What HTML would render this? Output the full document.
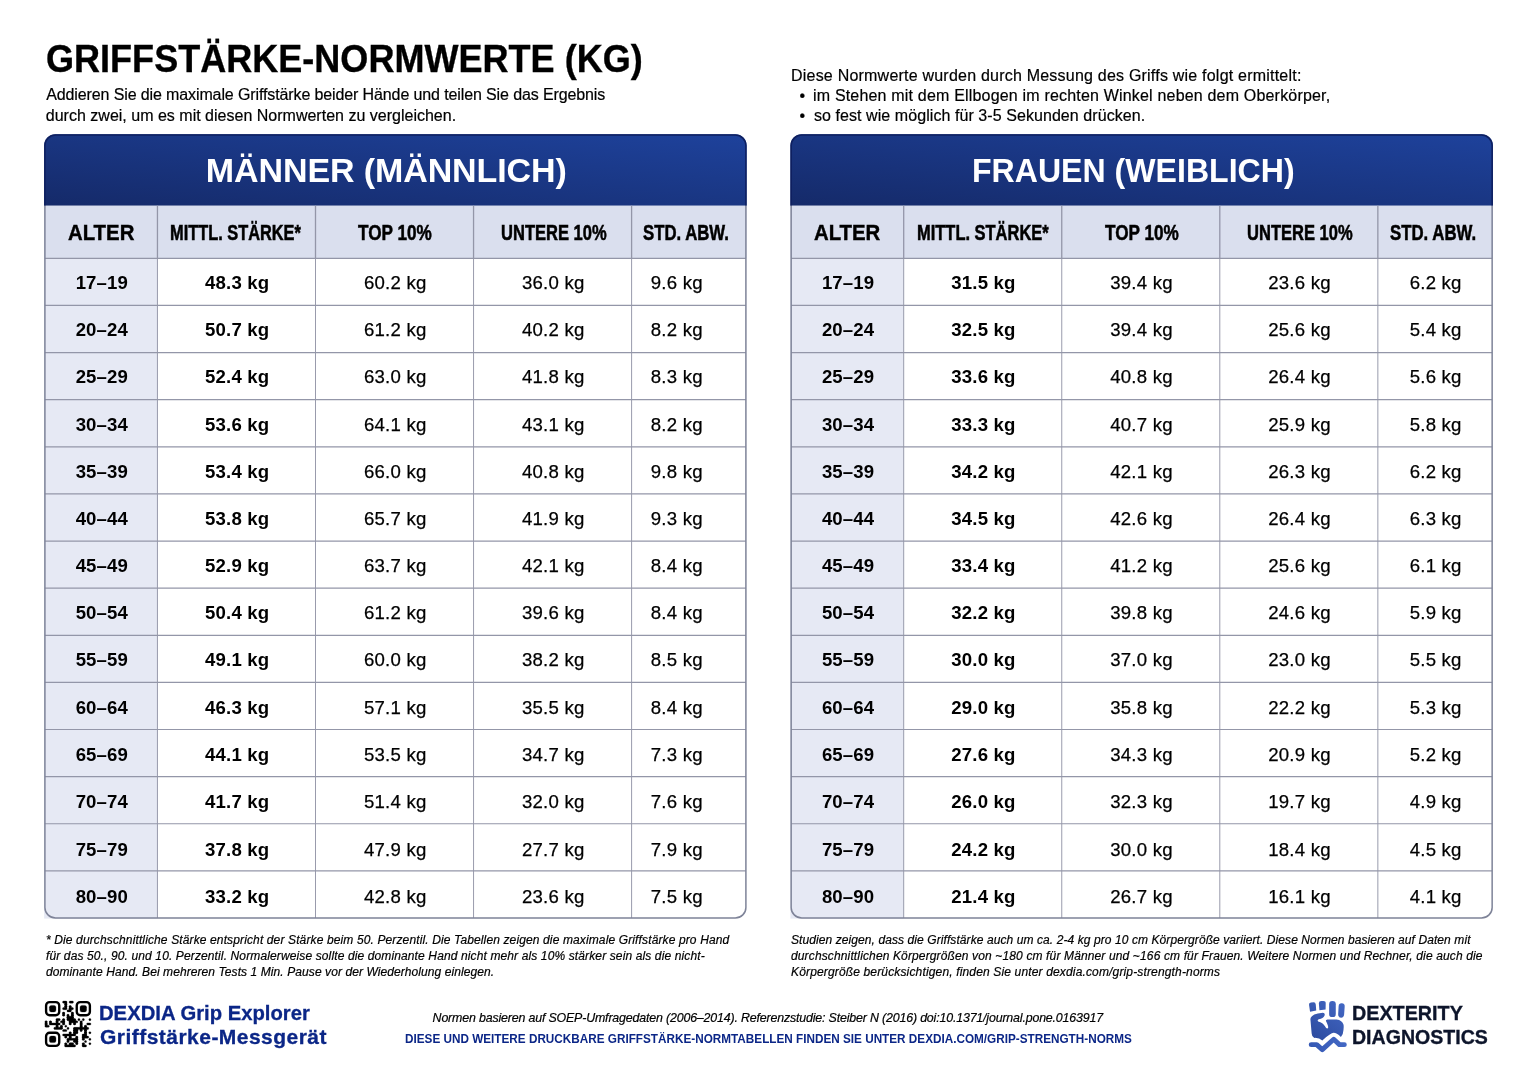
<!DOCTYPE html>
<html lang="de"><head><meta charset="utf-8"><title>Griffstärke-Normwerte (kg)</title>
<style>
html,body{margin:0;padding:0;background:#fff}
body{width:1536px;height:1085px;overflow:hidden;position:relative;font-family:"Liberation Sans",sans-serif;color:#000;-webkit-font-smoothing:antialiased}
.x{position:absolute;white-space:nowrap;line-height:1;transform-origin:0 0;display:block}
svg.g{position:absolute;left:0;top:0}
.c{position:absolute;text-align:center;white-space:nowrap;line-height:1;font-size:18.6px;letter-spacing:.22px;padding-left:1.4px;box-sizing:border-box;-webkit-text-stroke:.25px #000}
.c.b{font-weight:700;letter-spacing:.15px;-webkit-text-stroke:0}
.ic{position:absolute}
</style></head><body>
<svg class="g" width="1536" height="1085" viewBox="0 0 1536 1085"><linearGradient id="bgm" x1="0" y1="1" x2="1" y2="0"><stop offset="0" stop-color="#152a69"/><stop offset="1" stop-color="#1e429c"/></linearGradient><clipPath id="cpm"><rect x="44.10" y="134.20" width="702.60" height="784.60" rx="11.4"/></clipPath><rect x="44.15" y="258.33" width="113.30" height="660.27" fill="#e6e9f4"/><g clip-path="url(#cpm)"><rect x="43.9" y="134.0" width="703.0" height="71.75" fill="url(#bgm)"/><rect x="43.9" y="205.75" width="703.0" height="52.579999999999984" fill="#dadfee"/></g><line x1="157.45" y1="205.75" x2="157.45" y2="258.33" stroke="#9396a8" stroke-width="1.3"/><line x1="157.45" y1="258.33" x2="157.45" y2="918.0" stroke="#9396a8" stroke-width="0.95"/><line x1="315.50" y1="205.75" x2="315.50" y2="258.33" stroke="#9396a8" stroke-width="1.3"/><line x1="315.50" y1="258.33" x2="315.50" y2="918.0" stroke="#9396a8" stroke-width="0.95"/><line x1="473.55" y1="205.75" x2="473.55" y2="258.33" stroke="#9396a8" stroke-width="1.3"/><line x1="473.55" y1="258.33" x2="473.55" y2="918.0" stroke="#9396a8" stroke-width="0.95"/><line x1="631.60" y1="205.75" x2="631.60" y2="258.33" stroke="#9396a8" stroke-width="1.3"/><line x1="631.60" y1="258.33" x2="631.60" y2="918.0" stroke="#9396a8" stroke-width="0.95"/><line x1="44.90" y1="258.33" x2="745.90" y2="258.33" stroke="#9396a8" stroke-width="1.2"/><line x1="44.90" y1="305.45" x2="745.90" y2="305.45" stroke="#9396a8" stroke-width="1.2"/><line x1="44.90" y1="352.57" x2="745.90" y2="352.57" stroke="#9396a8" stroke-width="1.2"/><line x1="44.90" y1="399.69" x2="745.90" y2="399.69" stroke="#9396a8" stroke-width="1.2"/><line x1="44.90" y1="446.81" x2="745.90" y2="446.81" stroke="#9396a8" stroke-width="1.2"/><line x1="44.90" y1="493.93" x2="745.90" y2="493.93" stroke="#9396a8" stroke-width="1.2"/><line x1="44.90" y1="541.05" x2="745.90" y2="541.05" stroke="#9396a8" stroke-width="1.2"/><line x1="44.90" y1="588.16" x2="745.90" y2="588.16" stroke="#9396a8" stroke-width="1.2"/><line x1="44.90" y1="635.28" x2="745.90" y2="635.28" stroke="#9396a8" stroke-width="1.2"/><line x1="44.90" y1="682.40" x2="745.90" y2="682.40" stroke="#9396a8" stroke-width="1.2"/><line x1="44.90" y1="729.52" x2="745.90" y2="729.52" stroke="#9396a8" stroke-width="1.2"/><line x1="44.90" y1="776.64" x2="745.90" y2="776.64" stroke="#9396a8" stroke-width="1.2"/><line x1="44.90" y1="823.76" x2="745.90" y2="823.76" stroke="#9396a8" stroke-width="1.2"/><line x1="44.90" y1="870.88" x2="745.90" y2="870.88" stroke="#9396a8" stroke-width="1.2"/><path d="M44.90 205.75 V145.6 A10.6 10.6 0 0 1 55.50 135.0 H735.30 A10.6 10.6 0 0 1 745.90 145.6 V205.75" fill="none" stroke="#0e1f5f" stroke-width="1.5"/><path d="M44.90 205.75 V907.4 A10.6 10.6 0 0 0 55.50 918.0 H735.30 A10.6 10.6 0 0 0 745.90 907.4 V205.75" fill="none" stroke="#7e8398" stroke-width="1.5"/><linearGradient id="bgw" x1="0" y1="1" x2="1" y2="0"><stop offset="0" stop-color="#152a69"/><stop offset="1" stop-color="#1e429c"/></linearGradient><clipPath id="cpw"><rect x="790.35" y="134.20" width="702.60" height="784.60" rx="11.4"/></clipPath><rect x="790.40" y="258.33" width="113.30" height="660.27" fill="#e6e9f4"/><g clip-path="url(#cpw)"><rect x="790.15" y="134.0" width="703.0000000000001" height="71.75" fill="url(#bgw)"/><rect x="790.15" y="205.75" width="703.0000000000001" height="52.579999999999984" fill="#dadfee"/></g><line x1="903.70" y1="205.75" x2="903.70" y2="258.33" stroke="#9396a8" stroke-width="1.3"/><line x1="903.70" y1="258.33" x2="903.70" y2="918.0" stroke="#9396a8" stroke-width="0.95"/><line x1="1061.75" y1="205.75" x2="1061.75" y2="258.33" stroke="#9396a8" stroke-width="1.3"/><line x1="1061.75" y1="258.33" x2="1061.75" y2="918.0" stroke="#9396a8" stroke-width="0.95"/><line x1="1219.80" y1="205.75" x2="1219.80" y2="258.33" stroke="#9396a8" stroke-width="1.3"/><line x1="1219.80" y1="258.33" x2="1219.80" y2="918.0" stroke="#9396a8" stroke-width="0.95"/><line x1="1377.85" y1="205.75" x2="1377.85" y2="258.33" stroke="#9396a8" stroke-width="1.3"/><line x1="1377.85" y1="258.33" x2="1377.85" y2="918.0" stroke="#9396a8" stroke-width="0.95"/><line x1="791.15" y1="258.33" x2="1492.15" y2="258.33" stroke="#9396a8" stroke-width="1.2"/><line x1="791.15" y1="305.45" x2="1492.15" y2="305.45" stroke="#9396a8" stroke-width="1.2"/><line x1="791.15" y1="352.57" x2="1492.15" y2="352.57" stroke="#9396a8" stroke-width="1.2"/><line x1="791.15" y1="399.69" x2="1492.15" y2="399.69" stroke="#9396a8" stroke-width="1.2"/><line x1="791.15" y1="446.81" x2="1492.15" y2="446.81" stroke="#9396a8" stroke-width="1.2"/><line x1="791.15" y1="493.93" x2="1492.15" y2="493.93" stroke="#9396a8" stroke-width="1.2"/><line x1="791.15" y1="541.05" x2="1492.15" y2="541.05" stroke="#9396a8" stroke-width="1.2"/><line x1="791.15" y1="588.16" x2="1492.15" y2="588.16" stroke="#9396a8" stroke-width="1.2"/><line x1="791.15" y1="635.28" x2="1492.15" y2="635.28" stroke="#9396a8" stroke-width="1.2"/><line x1="791.15" y1="682.40" x2="1492.15" y2="682.40" stroke="#9396a8" stroke-width="1.2"/><line x1="791.15" y1="729.52" x2="1492.15" y2="729.52" stroke="#9396a8" stroke-width="1.2"/><line x1="791.15" y1="776.64" x2="1492.15" y2="776.64" stroke="#9396a8" stroke-width="1.2"/><line x1="791.15" y1="823.76" x2="1492.15" y2="823.76" stroke="#9396a8" stroke-width="1.2"/><line x1="791.15" y1="870.88" x2="1492.15" y2="870.88" stroke="#9396a8" stroke-width="1.2"/><path d="M791.15 205.75 V145.6 A10.6 10.6 0 0 1 801.75 135.0 H1481.55 A10.6 10.6 0 0 1 1492.15 145.6 V205.75" fill="none" stroke="#0e1f5f" stroke-width="1.5"/><path d="M791.15 205.75 V907.4 A10.6 10.6 0 0 0 801.75 918.0 H1481.55 A10.6 10.6 0 0 0 1492.15 907.4 V205.75" fill="none" stroke="#7e8398" stroke-width="1.5"/></svg>
<div class="c b" style="left:44.90px;top:274px;width:112.55px">17–19</div>
<div class="c b" style="left:157.45px;top:274px;width:158.05px">48.3 kg</div>
<div class="c" style="left:315.50px;top:274px;width:158.05px">60.2 kg</div>
<div class="c" style="left:473.55px;top:274px;width:158.05px">36.0 kg</div>
<div class="c" style="left:618.90px;top:274px;width:114.30px">9.6 kg</div>
<div class="c b" style="left:44.90px;top:321px;width:112.55px">20–24</div>
<div class="c b" style="left:157.45px;top:321px;width:158.05px">50.7 kg</div>
<div class="c" style="left:315.50px;top:321px;width:158.05px">61.2 kg</div>
<div class="c" style="left:473.55px;top:321px;width:158.05px">40.2 kg</div>
<div class="c" style="left:618.90px;top:321px;width:114.30px">8.2 kg</div>
<div class="c b" style="left:44.90px;top:368px;width:112.55px">25–29</div>
<div class="c b" style="left:157.45px;top:368px;width:158.05px">52.4 kg</div>
<div class="c" style="left:315.50px;top:368px;width:158.05px">63.0 kg</div>
<div class="c" style="left:473.55px;top:368px;width:158.05px">41.8 kg</div>
<div class="c" style="left:618.90px;top:368px;width:114.30px">8.3 kg</div>
<div class="c b" style="left:44.90px;top:416px;width:112.55px">30–34</div>
<div class="c b" style="left:157.45px;top:416px;width:158.05px">53.6 kg</div>
<div class="c" style="left:315.50px;top:416px;width:158.05px">64.1 kg</div>
<div class="c" style="left:473.55px;top:416px;width:158.05px">43.1 kg</div>
<div class="c" style="left:618.90px;top:416px;width:114.30px">8.2 kg</div>
<div class="c b" style="left:44.90px;top:463px;width:112.55px">35–39</div>
<div class="c b" style="left:157.45px;top:463px;width:158.05px">53.4 kg</div>
<div class="c" style="left:315.50px;top:463px;width:158.05px">66.0 kg</div>
<div class="c" style="left:473.55px;top:463px;width:158.05px">40.8 kg</div>
<div class="c" style="left:618.90px;top:463px;width:114.30px">9.8 kg</div>
<div class="c b" style="left:44.90px;top:510px;width:112.55px">40–44</div>
<div class="c b" style="left:157.45px;top:510px;width:158.05px">53.8 kg</div>
<div class="c" style="left:315.50px;top:510px;width:158.05px">65.7 kg</div>
<div class="c" style="left:473.55px;top:510px;width:158.05px">41.9 kg</div>
<div class="c" style="left:618.90px;top:510px;width:114.30px">9.3 kg</div>
<div class="c b" style="left:44.90px;top:557px;width:112.55px">45–49</div>
<div class="c b" style="left:157.45px;top:557px;width:158.05px">52.9 kg</div>
<div class="c" style="left:315.50px;top:557px;width:158.05px">63.7 kg</div>
<div class="c" style="left:473.55px;top:557px;width:158.05px">42.1 kg</div>
<div class="c" style="left:618.90px;top:557px;width:114.30px">8.4 kg</div>
<div class="c b" style="left:44.90px;top:604px;width:112.55px">50–54</div>
<div class="c b" style="left:157.45px;top:604px;width:158.05px">50.4 kg</div>
<div class="c" style="left:315.50px;top:604px;width:158.05px">61.2 kg</div>
<div class="c" style="left:473.55px;top:604px;width:158.05px">39.6 kg</div>
<div class="c" style="left:618.90px;top:604px;width:114.30px">8.4 kg</div>
<div class="c b" style="left:44.90px;top:651px;width:112.55px">55–59</div>
<div class="c b" style="left:157.45px;top:651px;width:158.05px">49.1 kg</div>
<div class="c" style="left:315.50px;top:651px;width:158.05px">60.0 kg</div>
<div class="c" style="left:473.55px;top:651px;width:158.05px">38.2 kg</div>
<div class="c" style="left:618.90px;top:651px;width:114.30px">8.5 kg</div>
<div class="c b" style="left:44.90px;top:699px;width:112.55px">60–64</div>
<div class="c b" style="left:157.45px;top:699px;width:158.05px">46.3 kg</div>
<div class="c" style="left:315.50px;top:699px;width:158.05px">57.1 kg</div>
<div class="c" style="left:473.55px;top:699px;width:158.05px">35.5 kg</div>
<div class="c" style="left:618.90px;top:699px;width:114.30px">8.4 kg</div>
<div class="c b" style="left:44.90px;top:746px;width:112.55px">65–69</div>
<div class="c b" style="left:157.45px;top:746px;width:158.05px">44.1 kg</div>
<div class="c" style="left:315.50px;top:746px;width:158.05px">53.5 kg</div>
<div class="c" style="left:473.55px;top:746px;width:158.05px">34.7 kg</div>
<div class="c" style="left:618.90px;top:746px;width:114.30px">7.3 kg</div>
<div class="c b" style="left:44.90px;top:793px;width:112.55px">70–74</div>
<div class="c b" style="left:157.45px;top:793px;width:158.05px">41.7 kg</div>
<div class="c" style="left:315.50px;top:793px;width:158.05px">51.4 kg</div>
<div class="c" style="left:473.55px;top:793px;width:158.05px">32.0 kg</div>
<div class="c" style="left:618.90px;top:793px;width:114.30px">7.6 kg</div>
<div class="c b" style="left:44.90px;top:841px;width:112.55px">75–79</div>
<div class="c b" style="left:157.45px;top:841px;width:158.05px">37.8 kg</div>
<div class="c" style="left:315.50px;top:841px;width:158.05px">47.9 kg</div>
<div class="c" style="left:473.55px;top:841px;width:158.05px">27.7 kg</div>
<div class="c" style="left:618.90px;top:841px;width:114.30px">7.9 kg</div>
<div class="c b" style="left:44.90px;top:888px;width:112.55px">80–90</div>
<div class="c b" style="left:157.45px;top:888px;width:158.05px">33.2 kg</div>
<div class="c" style="left:315.50px;top:888px;width:158.05px">42.8 kg</div>
<div class="c" style="left:473.55px;top:888px;width:158.05px">23.6 kg</div>
<div class="c" style="left:618.90px;top:888px;width:114.30px">7.5 kg</div>
<div class="c b" style="left:791.15px;top:274px;width:112.55px">17–19</div>
<div class="c b" style="left:903.70px;top:274px;width:158.05px">31.5 kg</div>
<div class="c" style="left:1061.75px;top:274px;width:158.05px">39.4 kg</div>
<div class="c" style="left:1219.80px;top:274px;width:158.05px">23.6 kg</div>
<div class="c" style="left:1377.85px;top:274px;width:114.30px">6.2 kg</div>
<div class="c b" style="left:791.15px;top:321px;width:112.55px">20–24</div>
<div class="c b" style="left:903.70px;top:321px;width:158.05px">32.5 kg</div>
<div class="c" style="left:1061.75px;top:321px;width:158.05px">39.4 kg</div>
<div class="c" style="left:1219.80px;top:321px;width:158.05px">25.6 kg</div>
<div class="c" style="left:1377.85px;top:321px;width:114.30px">5.4 kg</div>
<div class="c b" style="left:791.15px;top:368px;width:112.55px">25–29</div>
<div class="c b" style="left:903.70px;top:368px;width:158.05px">33.6 kg</div>
<div class="c" style="left:1061.75px;top:368px;width:158.05px">40.8 kg</div>
<div class="c" style="left:1219.80px;top:368px;width:158.05px">26.4 kg</div>
<div class="c" style="left:1377.85px;top:368px;width:114.30px">5.6 kg</div>
<div class="c b" style="left:791.15px;top:416px;width:112.55px">30–34</div>
<div class="c b" style="left:903.70px;top:416px;width:158.05px">33.3 kg</div>
<div class="c" style="left:1061.75px;top:416px;width:158.05px">40.7 kg</div>
<div class="c" style="left:1219.80px;top:416px;width:158.05px">25.9 kg</div>
<div class="c" style="left:1377.85px;top:416px;width:114.30px">5.8 kg</div>
<div class="c b" style="left:791.15px;top:463px;width:112.55px">35–39</div>
<div class="c b" style="left:903.70px;top:463px;width:158.05px">34.2 kg</div>
<div class="c" style="left:1061.75px;top:463px;width:158.05px">42.1 kg</div>
<div class="c" style="left:1219.80px;top:463px;width:158.05px">26.3 kg</div>
<div class="c" style="left:1377.85px;top:463px;width:114.30px">6.2 kg</div>
<div class="c b" style="left:791.15px;top:510px;width:112.55px">40–44</div>
<div class="c b" style="left:903.70px;top:510px;width:158.05px">34.5 kg</div>
<div class="c" style="left:1061.75px;top:510px;width:158.05px">42.6 kg</div>
<div class="c" style="left:1219.80px;top:510px;width:158.05px">26.4 kg</div>
<div class="c" style="left:1377.85px;top:510px;width:114.30px">6.3 kg</div>
<div class="c b" style="left:791.15px;top:557px;width:112.55px">45–49</div>
<div class="c b" style="left:903.70px;top:557px;width:158.05px">33.4 kg</div>
<div class="c" style="left:1061.75px;top:557px;width:158.05px">41.2 kg</div>
<div class="c" style="left:1219.80px;top:557px;width:158.05px">25.6 kg</div>
<div class="c" style="left:1377.85px;top:557px;width:114.30px">6.1 kg</div>
<div class="c b" style="left:791.15px;top:604px;width:112.55px">50–54</div>
<div class="c b" style="left:903.70px;top:604px;width:158.05px">32.2 kg</div>
<div class="c" style="left:1061.75px;top:604px;width:158.05px">39.8 kg</div>
<div class="c" style="left:1219.80px;top:604px;width:158.05px">24.6 kg</div>
<div class="c" style="left:1377.85px;top:604px;width:114.30px">5.9 kg</div>
<div class="c b" style="left:791.15px;top:651px;width:112.55px">55–59</div>
<div class="c b" style="left:903.70px;top:651px;width:158.05px">30.0 kg</div>
<div class="c" style="left:1061.75px;top:651px;width:158.05px">37.0 kg</div>
<div class="c" style="left:1219.80px;top:651px;width:158.05px">23.0 kg</div>
<div class="c" style="left:1377.85px;top:651px;width:114.30px">5.5 kg</div>
<div class="c b" style="left:791.15px;top:699px;width:112.55px">60–64</div>
<div class="c b" style="left:903.70px;top:699px;width:158.05px">29.0 kg</div>
<div class="c" style="left:1061.75px;top:699px;width:158.05px">35.8 kg</div>
<div class="c" style="left:1219.80px;top:699px;width:158.05px">22.2 kg</div>
<div class="c" style="left:1377.85px;top:699px;width:114.30px">5.3 kg</div>
<div class="c b" style="left:791.15px;top:746px;width:112.55px">65–69</div>
<div class="c b" style="left:903.70px;top:746px;width:158.05px">27.6 kg</div>
<div class="c" style="left:1061.75px;top:746px;width:158.05px">34.3 kg</div>
<div class="c" style="left:1219.80px;top:746px;width:158.05px">20.9 kg</div>
<div class="c" style="left:1377.85px;top:746px;width:114.30px">5.2 kg</div>
<div class="c b" style="left:791.15px;top:793px;width:112.55px">70–74</div>
<div class="c b" style="left:903.70px;top:793px;width:158.05px">26.0 kg</div>
<div class="c" style="left:1061.75px;top:793px;width:158.05px">32.3 kg</div>
<div class="c" style="left:1219.80px;top:793px;width:158.05px">19.7 kg</div>
<div class="c" style="left:1377.85px;top:793px;width:114.30px">4.9 kg</div>
<div class="c b" style="left:791.15px;top:841px;width:112.55px">75–79</div>
<div class="c b" style="left:903.70px;top:841px;width:158.05px">24.2 kg</div>
<div class="c" style="left:1061.75px;top:841px;width:158.05px">30.0 kg</div>
<div class="c" style="left:1219.80px;top:841px;width:158.05px">18.4 kg</div>
<div class="c" style="left:1377.85px;top:841px;width:114.30px">4.5 kg</div>
<div class="c b" style="left:791.15px;top:888px;width:112.55px">80–90</div>
<div class="c b" style="left:903.70px;top:888px;width:158.05px">21.4 kg</div>
<div class="c" style="left:1061.75px;top:888px;width:158.05px">26.7 kg</div>
<div class="c" style="left:1219.80px;top:888px;width:158.05px">16.1 kg</div>
<div class="c" style="left:1377.85px;top:888px;width:114.30px">4.1 kg</div>
<span class="x" style="left:45.60px;top:39px;font-size:39.0px;-webkit-text-stroke:0.35px #000;font-weight:700;transform:scaleX(0.9243);">GRIFFSTÄRKE-NORMWERTE (KG)</span>
<span class="x" style="left:46.20px;top:87px;font-size:16.0px;-webkit-text-stroke:0.2px #000;letter-spacing:-0.116px;">Addieren Sie die maximale Griffstärke beider Hände und teilen Sie das Ergebnis</span>
<span class="x" style="left:45.80px;top:108px;font-size:16.0px;-webkit-text-stroke:0.2px #000;letter-spacing:0.007px;">durch zwei, um es mit diesen Normwerten zu vergleichen.</span>
<span class="x" style="left:791.00px;top:68px;font-size:16.0px;-webkit-text-stroke:0.2px #000;letter-spacing:0.216px;">Diese Normwerte wurden durch Messung des Griffs wie folgt ermittelt:</span>
<span class="x xb" style="left:799.50px;top:88px;font-size:16.0px;-webkit-text-stroke:0.2px #000;">•</span>
<span class="x" style="left:813.00px;top:88px;font-size:16.0px;-webkit-text-stroke:0.2px #000;letter-spacing:0.185px;">im Stehen mit dem Ellbogen im rechten Winkel neben dem Oberkörper,</span>
<span class="x xb" style="left:799.50px;top:108px;font-size:16.0px;-webkit-text-stroke:0.2px #000;">•</span>
<span class="x" style="left:814.00px;top:108px;font-size:16.0px;-webkit-text-stroke:0.2px #000;letter-spacing:0.068px;">so fest wie möglich für 3-5 Sekunden drücken.</span>
<span class="x" style="left:205.80px;top:153px;font-size:34.0px;font-weight:700;color:#fff;letter-spacing:-0.100px;">MÄNNER (MÄNNLICH)</span>
<span class="x" style="left:971.60px;top:153px;font-size:34.0px;font-weight:700;color:#fff;transform:scaleX(0.9438);">FRAUEN (WEIBLICH)</span>
<span class="x" style="left:68.40px;top:223px;font-size:21.4px;-webkit-text-stroke:0.4px #000;font-weight:700;transform:scaleX(0.9515);">ALTER</span>
<span class="x" style="left:170.40px;top:223px;font-size:21.4px;-webkit-text-stroke:0.55px #000;font-weight:700;transform:scaleX(0.7649);">MITTL. STÄRKE*</span>
<span class="x" style="left:358.00px;top:223px;font-size:21.4px;-webkit-text-stroke:0.55px #000;font-weight:700;transform:scaleX(0.8022);">TOP 10%</span>
<span class="x" style="left:500.60px;top:223px;font-size:21.4px;-webkit-text-stroke:0.55px #000;font-weight:700;transform:scaleX(0.7728);">UNTERE 10%</span>
<span class="x" style="left:643.40px;top:223px;font-size:21.4px;-webkit-text-stroke:0.55px #000;font-weight:700;transform:scaleX(0.7825);">STD. ABW.</span>
<span class="x" style="left:814.00px;top:223px;font-size:21.4px;-webkit-text-stroke:0.4px #000;font-weight:700;transform:scaleX(0.9508);">ALTER</span>
<span class="x" style="left:917.00px;top:223px;font-size:21.4px;-webkit-text-stroke:0.55px #000;font-weight:700;transform:scaleX(0.7694);">MITTL. STÄRKE*</span>
<span class="x" style="left:1104.60px;top:223px;font-size:21.4px;-webkit-text-stroke:0.55px #000;font-weight:700;transform:scaleX(0.8022);">TOP 10%</span>
<span class="x" style="left:1247.20px;top:223px;font-size:21.4px;-webkit-text-stroke:0.55px #000;font-weight:700;transform:scaleX(0.7728);">UNTERE 10%</span>
<span class="x" style="left:1390.00px;top:223px;font-size:21.4px;-webkit-text-stroke:0.55px #000;font-weight:700;transform:scaleX(0.7844);">STD. ABW.</span>
<span class="x" style="left:46.00px;top:934px;font-size:12.0px;-webkit-text-stroke:0.2px #000;font-style:italic;letter-spacing:0.128px;">* Die durchschnittliche Stärke entspricht der Stärke beim 50. Perzentil. Die Tabellen zeigen die maximale Griffstärke pro Hand</span>
<span class="x" style="left:46.00px;top:950px;font-size:12.0px;-webkit-text-stroke:0.2px #000;font-style:italic;letter-spacing:0.124px;">für das 50., 90. und 10. Perzentil. Normalerweise sollte die dominante Hand nicht mehr als 10% stärker sein als die nicht-</span>
<span class="x" style="left:46.00px;top:966px;font-size:12.0px;-webkit-text-stroke:0.2px #000;font-style:italic;letter-spacing:0.084px;">dominante Hand. Bei mehreren Tests 1 Min. Pause vor der Wiederholung einlegen.</span>
<span class="x" style="left:791.00px;top:934px;font-size:12.0px;-webkit-text-stroke:0.2px #000;font-style:italic;letter-spacing:0.086px;">Studien zeigen, dass die Griffstärke auch um ca. 2-4 kg pro 10 cm Körpergröße variiert. Diese Normen basieren auf Daten mit</span>
<span class="x" style="left:791.00px;top:950px;font-size:12.0px;-webkit-text-stroke:0.2px #000;font-style:italic;letter-spacing:0.136px;">durchschnittlichen Körpergrößen von ~180 cm für Männer und ~166 cm für Frauen. Weitere Normen und Rechner, die auch die</span>
<span class="x" style="left:791.00px;top:966px;font-size:12.0px;-webkit-text-stroke:0.2px #000;font-style:italic;letter-spacing:0.153px;">Körpergröße berücksichtigen, finden Sie unter dexdia.com/grip-strength-norms</span>
<span class="x" style="left:99.40px;top:1002px;font-size:21.0px;-webkit-text-stroke:0.3px #0b2687;font-weight:700;color:#0b2687;transform:scaleX(0.9642);">DEXDIA Grip Explorer</span>
<span class="x" style="left:100.00px;top:1026px;font-size:21.0px;-webkit-text-stroke:0.3px #0b2687;font-weight:700;color:#0b2687;letter-spacing:0.470px;">Griffstärke-Messgerät</span>
<span class="x" style="left:432.60px;top:1012px;font-size:12.4px;-webkit-text-stroke:0.2px #000;font-style:italic;letter-spacing:-0.165px;">Normen basieren auf SOEP-Umfragedaten (2006–2014). Referenzstudie: Steiber N (2016) doi:10.1371/journal.pone.0163917</span>
<span class="x" style="left:404.60px;top:1033px;font-size:12.4px;font-weight:700;color:#0b2687;transform:scaleX(0.9473);">DIESE UND WEITERE DRUCKBARE GRIFFSTÄRKE-NORMTABELLEN FINDEN SIE UNTER DEXDIA.COM/GRIP-STRENGTH-NORMS</span>
<span class="x" style="left:1352.20px;top:1002px;font-size:21.0px;-webkit-text-stroke:0.35px #0d152b;font-weight:700;color:#0d152b;transform:scaleX(0.9402);">DEXTERITY</span>
<span class="x" style="left:1352.20px;top:1026px;font-size:21.0px;-webkit-text-stroke:0.35px #0d152b;font-weight:700;color:#0d152b;transform:scaleX(0.9313);">DIAGNOSTICS</span>
<svg class="ic" style="left:45.1px;top:1000.9px;overflow:visible" width="45.99" height="45.99" viewBox="0 0 21 21" aria-label="QR-Code">
<g fill="#000" stroke="#000" stroke-width=".14" stroke-linejoin="round">
<rect x="0.5" y="0.5" width="6" height="6" rx="1.6" fill="none" stroke="#000" stroke-width="1.08"/>
<rect x="2" y="2" width="3" height="3" rx="0.9"/>
<rect x="14.5" y="0.5" width="6" height="6" rx="1.6" fill="none" stroke="#000" stroke-width="1.08"/>
<rect x="16" y="2" width="3" height="3" rx="0.9"/>
<rect x="0.5" y="14.5" width="6" height="6" rx="1.6" fill="none" stroke="#000" stroke-width="1.08"/>
<rect x="2" y="16" width="3" height="3" rx="0.9"/>
<rect x="8.02" y="0.02" width="1.96" height="0.96" rx="0.42"/>
<rect x="11.02" y="0.02" width="1.96" height="0.96" rx="0.42"/>
<rect x="9.02" y="1.02" width="0.96" height="0.96" rx="0.42"/>
<rect x="9.02" y="2.02" width="0.96" height="0.96" rx="0.42"/>
<rect x="11.02" y="2.02" width="0.96" height="0.96" rx="0.42"/>
<rect x="8.02" y="3.02" width="1.96" height="0.96" rx="0.42"/>
<rect x="11.02" y="3.02" width="1.96" height="0.96" rx="0.42"/>
<rect x="10.02" y="4.02" width="1.96" height="0.96" rx="0.42"/>
<rect x="8.02" y="5.02" width="0.96" height="0.96" rx="0.42"/>
<rect x="12.02" y="5.02" width="0.96" height="0.96" rx="0.42"/>
<rect x="8.02" y="6.02" width="0.96" height="0.96" rx="0.42"/>
<rect x="10.02" y="6.02" width="0.96" height="0.96" rx="0.42"/>
<rect x="12.02" y="6.02" width="0.96" height="0.96" rx="0.42"/>
<rect x="10.02" y="7.02" width="2.96" height="0.96" rx="0.42"/>
<rect x="5.02" y="8.02" width="1.96" height="0.96" rx="0.42"/>
<rect x="8.02" y="8.02" width="0.96" height="0.96" rx="0.42"/>
<rect x="10.02" y="8.02" width="3.96" height="0.96" rx="0.42"/>
<rect x="15.02" y="8.02" width="0.96" height="0.96" rx="0.42"/>
<rect x="17.02" y="8.02" width="0.96" height="0.96" rx="0.42"/>
<rect x="20.02" y="8.02" width="0.96" height="0.96" rx="0.42"/>
<rect x="0.02" y="9.02" width="0.96" height="0.96" rx="0.42"/>
<rect x="2.02" y="9.02" width="0.96" height="0.96" rx="0.42"/>
<rect x="5.02" y="9.02" width="0.96" height="0.96" rx="0.42"/>
<rect x="7.02" y="9.02" width="1.96" height="0.96" rx="0.42"/>
<rect x="11.02" y="9.02" width="3.96" height="0.96" rx="0.42"/>
<rect x="16.02" y="9.02" width="0.96" height="0.96" rx="0.42"/>
<rect x="0.02" y="10.02" width="0.96" height="0.96" rx="0.42"/>
<rect x="2.02" y="10.02" width="4.96" height="0.96" rx="0.42"/>
<rect x="8.02" y="10.02" width="0.96" height="0.96" rx="0.42"/>
<rect x="11.02" y="10.02" width="0.96" height="0.96" rx="0.42"/>
<rect x="13.02" y="10.02" width="0.96" height="0.96" rx="0.42"/>
<rect x="16.02" y="10.02" width="0.96" height="0.96" rx="0.42"/>
<rect x="19.02" y="10.02" width="1.96" height="0.96" rx="0.42"/>
<rect x="0.02" y="11.02" width="1.96" height="0.96" rx="0.42"/>
<rect x="5.02" y="11.02" width="0.96" height="0.96" rx="0.42"/>
<rect x="7.02" y="11.02" width="0.96" height="0.96" rx="0.42"/>
<rect x="9.02" y="11.02" width="0.96" height="0.96" rx="0.42"/>
<rect x="16.02" y="11.02" width="0.96" height="0.96" rx="0.42"/>
<rect x="18.02" y="11.02" width="0.96" height="0.96" rx="0.42"/>
<rect x="4.02" y="12.02" width="3.96" height="0.96" rx="0.42"/>
<rect x="10.02" y="12.02" width="0.96" height="0.96" rx="0.42"/>
<rect x="13.02" y="12.02" width="6.96" height="0.96" rx="0.42"/>
<rect x="8.02" y="13.02" width="1.96" height="0.96" rx="0.42"/>
<rect x="13.02" y="13.02" width="1.96" height="0.96" rx="0.42"/>
<rect x="16.02" y="13.02" width="0.96" height="0.96" rx="0.42"/>
<rect x="18.02" y="13.02" width="0.96" height="0.96" rx="0.42"/>
<rect x="11.02" y="14.02" width="0.96" height="0.96" rx="0.42"/>
<rect x="13.02" y="14.02" width="1.96" height="0.96" rx="0.42"/>
<rect x="18.02" y="14.02" width="0.96" height="0.96" rx="0.42"/>
<rect x="20.02" y="14.02" width="0.96" height="0.96" rx="0.42"/>
<rect x="8.02" y="15.02" width="5.96" height="0.96" rx="0.42"/>
<rect x="17.02" y="15.02" width="1.96" height="0.96" rx="0.42"/>
<rect x="9.02" y="16.02" width="0.96" height="0.96" rx="0.42"/>
<rect x="11.02" y="16.02" width="0.96" height="0.96" rx="0.42"/>
<rect x="14.02" y="16.02" width="0.96" height="0.96" rx="0.42"/>
<rect x="17.02" y="16.02" width="2.96" height="0.96" rx="0.42"/>
<rect x="10.02" y="17.02" width="4.96" height="0.96" rx="0.42"/>
<rect x="17.02" y="17.02" width="0.96" height="0.96" rx="0.42"/>
<rect x="20.02" y="17.02" width="0.96" height="0.96" rx="0.42"/>
<rect x="10.02" y="18.02" width="0.96" height="0.96" rx="0.42"/>
<rect x="13.02" y="18.02" width="1.96" height="0.96" rx="0.42"/>
<rect x="18.02" y="18.02" width="0.96" height="0.96" rx="0.42"/>
<rect x="9.02" y="19.02" width="0.96" height="0.96" rx="0.42"/>
<rect x="11.02" y="19.02" width="1.96" height="0.96" rx="0.42"/>
<rect x="14.02" y="19.02" width="0.96" height="0.96" rx="0.42"/>
<rect x="17.02" y="19.02" width="0.96" height="0.96" rx="0.42"/>
<rect x="20.02" y="19.02" width="0.96" height="0.96" rx="0.42"/>
<rect x="9.02" y="20.02" width="4.96" height="0.96" rx="0.42"/>
<rect x="17.02" y="20.02" width="1.96" height="0.96" rx="0.42"/>
<rect x="9.02" y="0.30" width="0.96" height="1.4"/>
<rect x="9.02" y="1.30" width="0.96" height="1.4"/>
<rect x="9.02" y="2.30" width="0.96" height="1.4"/>
<rect x="11.02" y="2.30" width="0.96" height="1.4"/>
<rect x="11.02" y="3.30" width="0.96" height="1.4"/>
<rect x="8.02" y="5.30" width="0.96" height="1.4"/>
<rect x="12.02" y="5.30" width="0.96" height="1.4"/>
<rect x="10.02" y="6.30" width="0.96" height="1.4"/>
<rect x="12.02" y="6.30" width="0.96" height="1.4"/>
<rect x="10.02" y="7.30" width="0.96" height="1.4"/>
<rect x="11.02" y="7.30" width="0.96" height="1.4"/>
<rect x="12.02" y="7.30" width="0.96" height="1.4"/>
<rect x="5.02" y="8.30" width="0.96" height="1.4"/>
<rect x="8.02" y="8.30" width="0.96" height="1.4"/>
<rect x="11.02" y="8.30" width="0.96" height="1.4"/>
<rect x="12.02" y="8.30" width="0.96" height="1.4"/>
<rect x="13.02" y="8.30" width="0.96" height="1.4"/>
<rect x="0.02" y="9.30" width="0.96" height="1.4"/>
<rect x="2.02" y="9.30" width="0.96" height="1.4"/>
<rect x="5.02" y="9.30" width="0.96" height="1.4"/>
<rect x="8.02" y="9.30" width="0.96" height="1.4"/>
<rect x="11.02" y="9.30" width="0.96" height="1.4"/>
<rect x="13.02" y="9.30" width="0.96" height="1.4"/>
<rect x="16.02" y="9.30" width="0.96" height="1.4"/>
<rect x="0.02" y="10.30" width="0.96" height="1.4"/>
<rect x="5.02" y="10.30" width="0.96" height="1.4"/>
<rect x="16.02" y="10.30" width="0.96" height="1.4"/>
<rect x="5.02" y="11.30" width="0.96" height="1.4"/>
<rect x="7.02" y="11.30" width="0.96" height="1.4"/>
<rect x="16.02" y="11.30" width="0.96" height="1.4"/>
<rect x="18.02" y="11.30" width="0.96" height="1.4"/>
<rect x="13.02" y="12.30" width="0.96" height="1.4"/>
<rect x="14.02" y="12.30" width="0.96" height="1.4"/>
<rect x="16.02" y="12.30" width="0.96" height="1.4"/>
<rect x="18.02" y="12.30" width="0.96" height="1.4"/>
<rect x="13.02" y="13.30" width="0.96" height="1.4"/>
<rect x="14.02" y="13.30" width="0.96" height="1.4"/>
<rect x="18.02" y="13.30" width="0.96" height="1.4"/>
<rect x="11.02" y="14.30" width="0.96" height="1.4"/>
<rect x="13.02" y="14.30" width="0.96" height="1.4"/>
<rect x="18.02" y="14.30" width="0.96" height="1.4"/>
<rect x="9.02" y="15.30" width="0.96" height="1.4"/>
<rect x="11.02" y="15.30" width="0.96" height="1.4"/>
<rect x="17.02" y="15.30" width="0.96" height="1.4"/>
<rect x="18.02" y="15.30" width="0.96" height="1.4"/>
<rect x="11.02" y="16.30" width="0.96" height="1.4"/>
<rect x="14.02" y="16.30" width="0.96" height="1.4"/>
<rect x="17.02" y="16.30" width="0.96" height="1.4"/>
<rect x="10.02" y="17.30" width="0.96" height="1.4"/>
<rect x="13.02" y="17.30" width="0.96" height="1.4"/>
<rect x="14.02" y="17.30" width="0.96" height="1.4"/>
<rect x="14.02" y="18.30" width="0.96" height="1.4"/>
<rect x="9.02" y="19.30" width="0.96" height="1.4"/>
<rect x="11.02" y="19.30" width="0.96" height="1.4"/>
<rect x="12.02" y="19.30" width="0.96" height="1.4"/>
<rect x="17.02" y="19.30" width="0.96" height="1.4"/>
</g></svg>
<svg class="ic" style="left:1300px;top:994px" width="60" height="62" viewBox="0 0 1050 1085" aria-label="Dexterity Diagnostics">
<defs><linearGradient id="fg" gradientUnits="userSpaceOnUse" x1="760" y1="130" x2="220" y2="820"><stop offset="0" stop-color="#4368c4"/><stop offset="1" stop-color="#2c4a9e"/></linearGradient></defs>
<g fill="url(#fg)">
<path d="M158 190 Q152 150 192 148 L240 146 Q272 146 276 182 L284 290 L176 312 Z"/>
<path d="M330 160 Q330 122 372 122 L408 122 Q452 122 450 164 L448 272 L340 284 Z"/>
<rect x="510" y="124" width="116" height="280" rx="56"/>
<path d="M676 214 Q680 160 732 164 Q788 168 782 224 L772 360 Q768 416 718 414 Q664 410 668 356 Z"/>
<path d="M182 440 Q180 400 250 360 Q300 340 400 328 Q440 330 432 372 Q420 420 330 442 Q296 456 318 482 Q400 500 440 570 Q462 612 486 600 Q510 584 452 470 Q454 448 480 446 L640 448 Q740 460 762 540 Q772 600 748 700 L716 752 Q640 680 588 680 Q540 682 390 812 Q340 764 250 768 Q206 748 204 690 Z"/>
</g>
<path d="M196 886 H292 L390 974 L590 792 L690 886 H776" fill="none" stroke="url(#fg2)" stroke-width="86" stroke-linecap="round" stroke-linejoin="round"/>
<defs><linearGradient id="fg2" gradientUnits="userSpaceOnUse" x1="150" y1="900" x2="820" y2="880"><stop offset="0" stop-color="#3558b4"/><stop offset="1" stop-color="#4368c4"/></linearGradient></defs>
</svg>

</body></html>
